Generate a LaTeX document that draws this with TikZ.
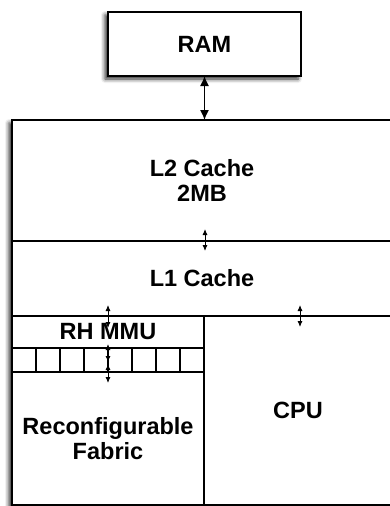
\documentclass[tikz,border=0pt]{standalone}
\usepackage{fontspec}
\setsansfont{Liberation Sans}
\usetikzlibrary{arrows.meta,shadows.blur}

\tikzset{
  block/.style={draw, line width=1.3pt, fill=white, inner sep=0pt, outer sep=0pt,
    font=\sffamily\bfseries\fontsize{23.5}{25}\selectfont, align=center},
  shade box/.style={blur shadow={shadow xshift=-3pt, shadow yshift=-3pt,
    shadow blur radius=4pt, shadow opacity=85}},
  cell/.style={draw, line width=1.1pt, minimum width=24pt, minimum height=24pt,
    inner sep=0pt, outer sep=0pt},
  link/.style={line width=0.9pt, {Latex[length=6pt,width=5pt]}-{Latex[length=6pt,width=5pt]}},
  bus/.style={line width=1.3pt, {Latex[length=10pt,width=9pt]}-{Latex[length=10pt,width=9pt]}},
}

\begin{document}
\begin{tikzpicture}[x=1pt,y=-1pt]
  \useasboundingbox (0,0) rectangle (390,506);
  % memory
  \node[block, shade box, minimum width=193pt, minimum height=64pt] (ram) at (204.5,44) {RAM};
  % chip
  \node[block, shade box, minimum width=380pt, minimum height=385pt] (chip) at (202,312.5) {};
  \node[block, minimum width=380pt, minimum height=121pt] (l2) at (202,180.5) {L2 Cache\\2MB};
  \node[block, minimum width=380pt, minimum height=75pt] (l1) at (202,278.5) {L1 Cache};
  \node[block, minimum width=192pt, minimum height=32pt] (mmu) at (108,332) {RH MMU};
  \node[block, minimum width=192pt, minimum height=133pt] (fabric) at (108,438.5) {Reconfigurable\\Fabric};
  \node[block, minimum width=188pt, minimum height=189pt] (cpu) at (298,410.5) {CPU};
  \foreach \i in {0,...,7}
    \node[cell] (cell\i) at ({24+24*\i},360) {};
  % connections
  \draw[bus] (ram.south) -- (ram.south |- chip.north);
  \foreach \x/\ya/\yb [count=\n] in {205/229/251, 300/305/327, 108/305/328, 108/344/362, 108/364/383} {
    \coordinate (up\n) at (\x,\ya);
    \coordinate (dn\n) at (\x,\yb);
    \draw[link] (up\n) -- (dn\n);
  }
\end{tikzpicture}
\end{document}
